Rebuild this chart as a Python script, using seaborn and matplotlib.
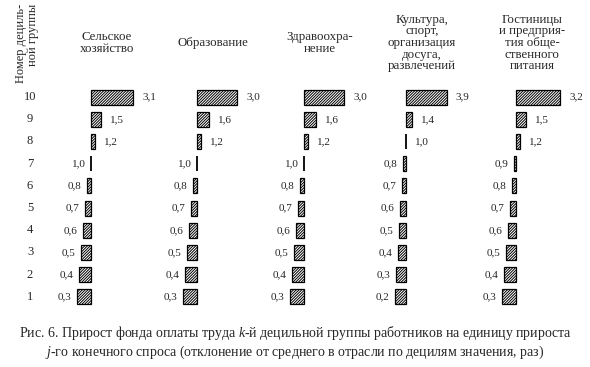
import numpy as np
import pandas as pd
import matplotlib
matplotlib.use("Agg")
import matplotlib.pyplot as plt
import matplotlib.transforms as mtransforms
import seaborn as sns

# ---------------- data ----------------
deciles = [1, 2, 3, 4, 5, 6, 7, 8, 9, 10]
panels = [
    "Сельское\nхозяйство",
    "Образование",
    "Здравоохра-\nнение",
    "Культура,\nспорт,\nорганизация\nдосуга,\nразвлечений",
    "Гостиницы\nи предприя-\nтия обще-\nственного\nпитания",
]
agri = [0.3, 0.4, 0.5, 0.6, 0.7, 0.8, 1.0, 1.2, 1.5, 3.1]
educ = [0.3, 0.4, 0.5, 0.6, 0.7, 0.8, 1.0, 1.2, 1.6, 3.0]
health = [0.3, 0.4, 0.5, 0.6, 0.7, 0.8, 1.0, 1.2, 1.6, 3.0]
culture = [0.2, 0.3, 0.4, 0.5, 0.6, 0.7, 0.8, 1.0, 1.4, 3.9]
hotels = [0.3, 0.4, 0.5, 0.6, 0.7, 0.8, 0.9, 1.2, 1.5, 3.2]
series = [agri, educ, health, culture, hotels]
ylabel = "Номер дециль-\nной группы"
caption1 = "Рис. 6. Прирост фонда оплаты труда $k$-й децильной группы работников на единицу прироста"
caption2 = "$j$-го конечного спроса (отклонение от среднего в отрасли по децилям значения, раз)"

# ---------------- style ----------------
sns.set_theme(style="white")
plt.rcParams["font.family"] = ["Liberation Serif", "DejaVu Serif"]
plt.rcParams["mathtext.fontset"] = "custom"
plt.rcParams["mathtext.rm"] = "Liberation Serif"
plt.rcParams["mathtext.it"] = "Liberation Serif:italic"
plt.rcParams["hatch.linewidth"] = 0.7
plt.rcParams["hatch.color"] = "black"

W, H = 590, 367
fig = plt.figure(figsize=(W / 100, H / 100), dpi=100)
fig.patch.set_facecolor("white")

baselines = [91, 197, 304, 406, 516]   # px of the "1.0" line in each panel
scales = [20, 20, 20, 14, 20]          # px per unit of deviation
Lpx, Rpx = 40, 62
top_px, bot_px = 86, 308
order = [str(d) for d in deciles[::-1]]

def fmt(v):
    return f"{v:.1f}".replace(".", ",")

axes = []
for i, (b, s, vals) in enumerate(zip(baselines, scales, series)):
    ax = fig.add_axes([(b - Lpx) / W, 1 - bot_px / H, (Lpx + Rpx) / W, (bot_px - top_px) / H])
    df = pd.DataFrame({"decile": [str(d) for d in deciles],
                       "value": vals})
    df["dev"] = df["value"] - 1.0
    sns.barplot(data=df, x="dev", y="decile", order=order, orient="h",
                color="white", saturation=1, edgecolor="black", linewidth=0.9,
                width=0.68, errorbar=None, ax=ax)
    for p in ax.patches:
        p.set_hatch("/" * 12)
        if abs(p.get_width()) < 1e-9:
            p.set_linewidth(1.3)
    ax.set_xlim(-Lpx / s, Rpx / s)
    ax.set_ylim(len(order) - 0.5, -0.5)
    ax.set_axis_off()
    for d, v in zip(deciles, vals):
        ypos = order.index(str(d))
        dev = v - 1.0
        right = v > 1 or (v == 1 and d >= 8)
        if right:
            ax.annotate(fmt(v), (dev, ypos), xytext=(6.5, 0), textcoords="offset points",
                        ha="left", va="center", fontsize=8)
        else:
            ax.annotate(fmt(v), (min(dev, 0), ypos), xytext=(-4, 0), textcoords="offset points",
                        ha="right", va="center", fontsize=8)
    fig.text((b + 16) / W, 1 - 43 / H, panels[i], ha="center", va="center",
             multialignment="center", fontsize=9.3, linespacing=0.95)
    axes.append(ax)

# decile numbers
tr = mtransforms.blended_transform_factory(fig.transFigure, axes[0].transData)
for j, lab in enumerate(order):
    axes[0].text(30 / W, j, lab, transform=tr, ha="center", va="center", fontsize=9)

fig.text(27 / W, 1 - 43 / H, ylabel, rotation=90, ha="center", va="center",
         multialignment="right", fontsize=9, linespacing=1.0)

fig.text(0.5, 1 - 333 / H, caption1, ha="center", va="center", fontsize=10)
fig.text(0.5, 1 - 352 / H, caption2, ha="center", va="center", fontsize=10)

fig.savefig("out.png", dpi=100, facecolor="white")
